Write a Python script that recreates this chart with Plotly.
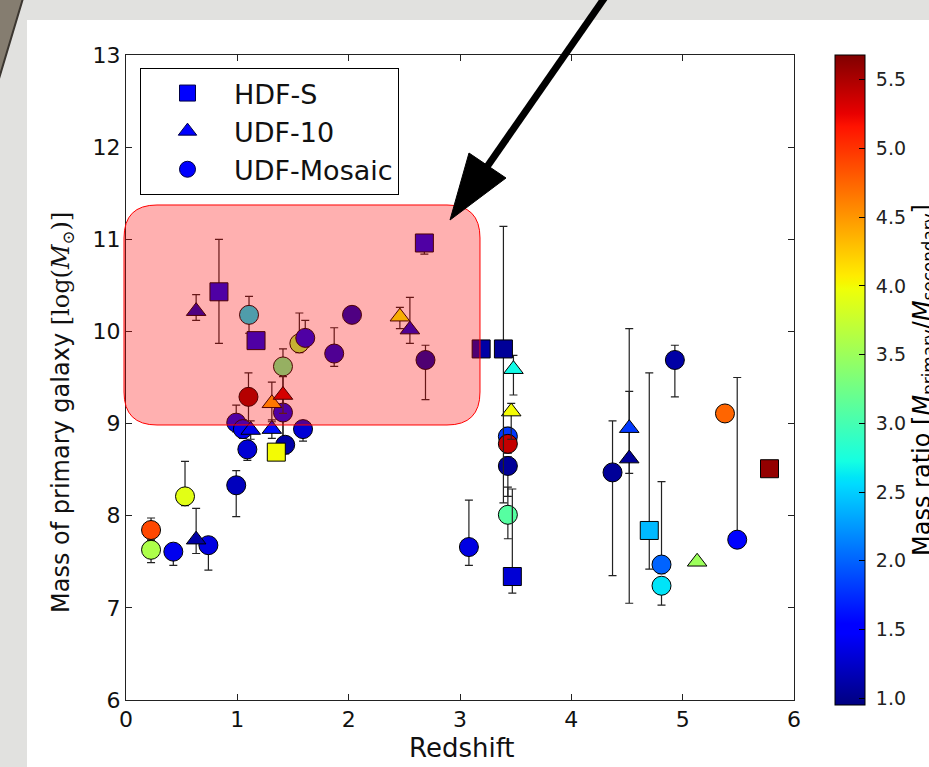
import numpy as np
import plotly.graph_objects as go

# ---------------- data ----------------
# HDF-S (squares)
hdfs_z = [0.835, 1.168, 1.35, 2.68, 3.19, 3.39, 3.47, 4.70, 5.78]
hdfs_m = [10.43, 9.90, 8.69, 10.96, 9.81, 9.81, 7.34, 7.84, 8.51]
hdfs_up = [0.57, 0.05, 0.05, 0.04, 0.0, 1.33, 0.95, 1.71, 0.05]
hdfs_dn = [0.56, 0.05, 0.05, 0.12, 0.0, 1.67, 0.18, 0.42, 0.05]
hdfs_ratio = [1.4, 1.4, 4.0, 1.4, 1.1, 1.05, 1.3, 2.4, 5.6]

# UDF-10 (triangles)
udf10_z = [0.63, 0.63, 1.12, 1.31, 1.31, 1.41, 2.46, 2.55, 3.48, 3.46, 4.52, 4.52, 5.13]
udf10_m = [10.22, 7.74, 8.93, 8.94, 9.22, 9.31, 10.16, 10.02, 9.59, 9.13, 8.95, 8.62, 7.50]
udf10_up = [0.18, 0.34, 0.1, 0.1, 0.23, 0.2, 0.10, 0.35, 0.15, 0.09, 1.08, 0.73, 0.03]
udf10_dn = [0.10, 0.15, 0.1, 0.1, 0.20, 0.2, 0.13, 0.15, 0.28, 0.30, 0.49, 1.57, 0.03]
udf10_ratio = [1.2, 1.1, 1.4, 1.6, 4.4, 5.4, 4.0, 1.3, 2.7, 4.0, 1.8, 1.05, 3.5]

# UDF-Mosaic (circles)
mos_z = [0.225, 0.225, 0.425, 0.53, 0.74, 0.99, 0.99, 1.05, 1.09, 1.10, 1.105,
         1.41, 1.41, 1.43, 1.557, 1.59, 1.61, 1.87, 2.03, 2.69, 3.08, 3.43,
         3.43, 3.43, 3.43, 4.37, 4.81, 4.81, 4.93, 5.38, 5.49]
mos_m = [7.845, 7.63, 7.61, 8.21, 7.68, 8.33, 9.01, 8.94, 8.72, 9.29, 10.18,
         9.62, 9.12, 8.77, 9.87, 8.94, 9.93, 9.76, 10.18, 9.69, 7.66, 8.86,
         8.78, 8.54, 8.01, 8.47, 7.47, 7.24, 9.69, 9.11, 7.74]
mos_up = [0.13, 0.10, 0.05, 0.38, 0.05, 0.16, 0.19, 0.10, 0.05, 0.26, 0.20,
          0.19, 0.20, 0.05, 0.33, 0.05, 0.19, 0.28, 0.03, 0.16, 0.51, 0.10,
          0.10, 0.10, 0.30, 0.56, 0.90, 0.05, 0.16, 0.05, 1.76]
mos_dn = [0.10, 0.14, 0.15, 0.10, 0.27, 0.34, 0.10, 0.10, 0.12, 0.30, 0.20,
          0.80, 0.30, 0.10, 0.10, 0.13, 0.10, 0.14, 0.03, 0.43, 0.20, 0.10,
          0.10, 0.33, 0.26, 1.12, 0.10, 0.21, 0.40, 0.05, 0.05]
mos_ratio = [4.9, 3.6, 1.4, 3.9, 1.35, 1.2, 1.4, 1.4, 1.3, 5.6, 2.6,
             3.2, 1.4, 1.1, 3.6, 1.3, 1.4, 1.3, 1.2, 1.1, 1.35, 1.8,
             5.4, 1.05, 3.1, 1.05, 2.0, 2.6, 1.1, 4.75, 1.55]

x_ticks = [0, 1, 2, 3, 4, 5, 6]
y_ticks = [6, 7, 8, 9, 10, 11, 12, 13]
cbar_ticks = [1.0, 1.5, 2.0, 2.5, 3.0, 3.5, 4.0, 4.5, 5.0, 5.5]
CMIN, CMAX = 0.95, 5.68

# ---------------- style helpers ----------------
def jet_scale():
    R = [(0, 0), (0.35, 0), (0.66, 1), (0.89, 1), (1, 0.5)]
    G = [(0, 0), (0.125, 0), (0.375, 1), (0.64, 1), (0.91, 0), (1, 0)]
    B = [(0, 0.5), (0.11, 1), (0.34, 1), (0.65, 0), (1, 0)]
    stops = sorted(set([p for seg in (R, G, B) for p, _ in seg]))
    def ch(seg, t):
        return np.interp(t, [a for a, _ in seg], [b for _, b in seg])
    out = []
    for t in stops:
        out.append([t, "rgb(%d,%d,%d)" % (round(255 * ch(R, t)), round(255 * ch(G, t)), round(255 * ch(B, t)))])
    return out

JET = jet_scale()
FONT = "DejaVu Sans"
SERIF = "DejaVu Serif"
W, H = 929, 767
L, R_, T, B_ = 126, 135, 55, 67
PW, PH = W - L - R_, H - T - B_

def P(px, py):
    return (px - L) / PW, (H - B_ - py) / PH

fig = go.Figure()

def add_series(z, m, up, dn, ratio, symbol, size, showscale):
    fig.add_trace(go.Scatter(
        x=z, y=m, mode="markers", showlegend=False,
        error_y=dict(type="data", symmetric=False, array=up, arrayminus=dn,
                     color="#222222", thickness=1.2, width=4),
        marker=dict(symbol=symbol, size=size, color=ratio, colorscale=JET,
                    cmin=CMIN, cmax=CMAX, line=dict(color="black", width=1),
                    showscale=showscale,
                    colorbar=dict(
                        x=P(835, 0)[0], xanchor="left", xpad=0, ypad=0,
                        y=P(0, 380)[1], yanchor="middle",
                        thickness=30, lenmode="pixels", len=650,
                        outlinecolor="black", outlinewidth=1,
                        ticks="inside", ticklen=6, tickcolor="black",
                        tickvals=cbar_ticks, ticktext=[" %.1f" % v for v in cbar_ticks],
                        tickfont=dict(family=FONT, size=19, color="#222"),
                        title=dict(text="Mass ratio [<i>M</i><sub>primary</sub>/<i>M</i><sub>secondary</sub>]",
                                   side="right", font=dict(family=FONT, size=24, color="black")),
                    ) if showscale else None),
    ))

add_series(mos_z, mos_m, mos_up, mos_dn, mos_ratio, "circle", 19, True)
add_series(udf10_z, udf10_m, udf10_up, udf10_dn, udf10_ratio, "triangle-up", 17, False)
add_series(hdfs_z, hdfs_m, hdfs_up, hdfs_dn, hdfs_ratio, "square", 18, False)

# legend entries
for name, sym in [("HDF-S", "square"), ("UDF-10", "triangle-up"), ("UDF-Mosaic", "circle")]:
    fig.add_trace(go.Scatter(x=[None], y=[None], mode="markers", name=name,
                             legendgroup=name,
                             marker=dict(symbol=sym, size=16, color="#0000ff",
                                         line=dict(color="#000044", width=1))))

shapes = []
# white slide panel
x0, y0 = P(27, 20)
x1, y1 = P(945, 785)
shapes.append(dict(type="rect", xref="paper", yref="paper", x0=x0, y0=y1, x1=x1, y1=y0,
                   fillcolor="white", line=dict(width=0), layer="below"))
# dark wedge top-left
a = P(-5, -5); b = P(24, -5); c = P(-5, 92)
shapes.append(dict(type="path", xref="paper", yref="paper",
                   path="M%f,%f L%f,%f L%f,%f Z" % (a[0], a[1], b[0], b[1], c[0], c[1]),
                   fillcolor="#857d70", line=dict(color="#3b3630", width=2), layer="below"))

# pink rounded highlight box
bx0, by1 = P(124, 205)
bx1, by0 = P(480, 425)
rx, ry = 33 / PW, 33 / PH
path = ("M%f,%f L%f,%f Q%f,%f %f,%f L%f,%f Q%f,%f %f,%f L%f,%f Q%f,%f %f,%f L%f,%f Q%f,%f %f,%f Z" % (
    bx0 + rx, by1, bx1 - rx, by1, bx1, by1, bx1, by1 - ry,
    bx1, by0 + ry, bx1, by0, bx1 - rx, by0,
    bx0 + rx, by0, bx0, by0, bx0, by0 + ry,
    bx0, by1 - ry, bx0, by1, bx0 + rx, by1))
shapes.append(dict(type="path", xref="paper", yref="paper", path=path,
                   fillcolor="rgba(255,0,0,0.31)", line=dict(color="red", width=1), layer="above"))

# arrow
s0 = P(610, -10); s1 = P(482, 174)
shapes.append(dict(type="line", xref="paper", yref="paper", x0=s0[0], y0=s0[1], x1=s1[0], y1=s1[1],
                   line=dict(color="black", width=7), layer="above"))
tip = P(450, 220); c1 = P(469, 153); c2 = P(506, 178)
shapes.append(dict(type="path", xref="paper", yref="paper",
                   path="M%f,%f L%f,%f L%f,%f Z" % (tip[0], tip[1], c1[0], c1[1], c2[0], c2[1]),
                   fillcolor="black", line=dict(color="black", width=1), layer="above"))

ytitle = ("Mass of primary galaxy <span style=\"font-family:'%s'\">[log(<i>M</i><sub>⊙</sub>)]</span>" % SERIF)
annotations = [
    dict(text=ytitle, xref="paper", yref="paper",
         x=P(62, 0)[0], y=P(0, 413)[1], textangle=-90, showarrow=False,
         xanchor="center", yanchor="middle", font=dict(family=FONT, size=24, color="#111")),
    dict(text="Redshift", xref="paper", yref="paper",
         x=P(462, 0)[0], y=P(0, 748)[1], showarrow=False, xanchor="center", yanchor="middle",
         font=dict(family=FONT, size=26, color="#111")),
]

axis_common = dict(showgrid=False, zeroline=False, showline=True, linecolor="#222", linewidth=1,
                   mirror="ticks", ticks="inside", ticklen=6, tickcolor="#222",
                   tickfont=dict(family=FONT, size=22, color="#111"))

fig.update_layout(
    width=W, height=H,
    margin=dict(l=L, r=R_, t=T, b=B_, autoexpand=False),
    paper_bgcolor="#e1e1df", plot_bgcolor="white",
    xaxis=dict(range=[0, 6], tickvals=x_ticks, **axis_common),
    yaxis=dict(range=[6, 13], tickvals=y_ticks, **axis_common),
    legend=dict(x=P(140, 0)[0], y=P(0, 68)[1], xanchor="left", yanchor="top",
                bgcolor="white", bordercolor="black", borderwidth=1,
                font=dict(family=FONT, size=27, color="#111"),
                traceorder="grouped", tracegroupgap=0, itemwidth=83),
    shapes=shapes, annotations=annotations,
)

fig.write_html("out.html", config={"displayModeBar": False},
               post_script="document.body.style.margin='0px';document.body.style.overflow='hidden';")
